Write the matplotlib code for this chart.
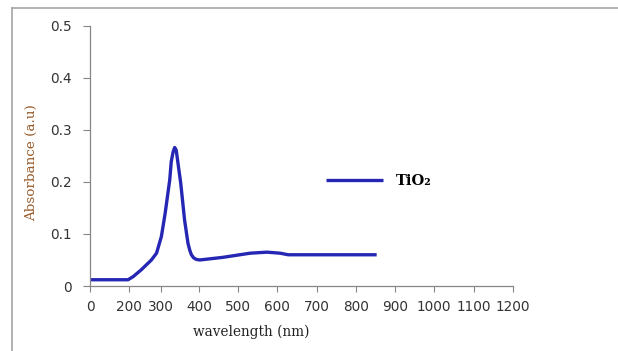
import matplotlib
matplotlib.use('Agg')
import matplotlib.pyplot as plt
from matplotlib.lines import Line2D
import numpy as np

# Datos (espectro UV-Vis de TiO2)
longitud_onda = [0, 195, 213, 238, 270, 286, 301, 311, 323, 327, 332, 336, 340,
                 346, 352, 362, 371, 376, 380, 386, 393, 402, 461, 531, 574,
                 608, 628, 853]
absorbancia = [0.012, 0.012, 0.018, 0.031, 0.050, 0.063, 0.095, 0.140, 0.204,
               0.239, 0.258, 0.266, 0.261, 0.229, 0.197, 0.127, 0.082, 0.068,
               0.060, 0.054, 0.051, 0.050, 0.055, 0.063, 0.065, 0.063, 0.060,
               0.060]

# Eje x irregular del original: valores de las marcas y su posición relativa
ticks_x = [0, 200, 300, 400, 500, 600, 700, 800, 900, 1000, 1100, 1200]
pos_ticks_x = [0, 39, 71, 109, 148, 187, 227, 266, 305, 344, 384, 423]
ticks_y = [0, 0.1, 0.2, 0.3, 0.4, 0.5]
etiquetas_y = ['0', '0.1', '0.2', '0.3', '0.4', '0.5']


def adelante(x):
    return np.interp(x, ticks_x, pos_ticks_x)


def inversa(p):
    return np.interp(p, pos_ticks_x, ticks_x)


fig = plt.figure(figsize=(6.18, 3.51), dpi=100)
ax = fig.add_axes([90 / 618, 1 - 286 / 351, 423 / 618, 260.3 / 351])

ax.plot(longitud_onda, absorbancia, color='#2626b4', linewidth=2.4,
        solid_capstyle='butt', solid_joinstyle='round', label='TiO₂')

ax.set_xscale('function', functions=(adelante, inversa))
ax.set_xlim(0, 1200)
ax.set_ylim(0, 0.5)
ax.set_xticks(ticks_x)
ax.set_xticklabels([str(t) for t in ticks_x])
ax.set_yticks(ticks_y)
ax.set_yticklabels(etiquetas_y)
ax.minorticks_off()

ax.tick_params(axis='x', length=4, width=0.8, color='#868686', pad=6,
               labelsize=9.8, labelcolor='#333333')
ax.tick_params(axis='y', length=5, width=0.8, color='#868686', pad=8,
               labelsize=9.8, labelcolor='#333333')

for lado in ['top', 'right']:
    ax.spines[lado].set_visible(False)
for lado in ['left', 'bottom']:
    ax.spines[lado].set_color('#868686')
    ax.spines[lado].set_linewidth(0.9)

ax.set_xlabel('wavelength (nm)', family='DejaVu Serif', fontsize=9.8,
              color='#222222')
ax.xaxis.set_label_coords((251 - 90) / 423, (286 - 332) / 260.3)
ax.xaxis.label.set_va('center')
ax.set_ylabel('Absorbance (a.u)', family='DejaVu Serif', fontsize=9.7,
              color='#985a28')
ax.yaxis.set_label_coords((32 - 90) / 423, (286 - 162.5) / 260.3)
ax.yaxis.label.set_va('center')

ax.legend(loc='center left', bbox_to_anchor=((326 - 90) / 423, (286 - 181) / 260.3),
          frameon=False, borderpad=0, borderaxespad=0, handlelength=3.9,
          handletextpad=0.9,
          prop={'family': ['DejaVu Serif'], 'weight': 'bold', 'size': 10.5})

# Marco exterior (solo borde superior e izquierdo visibles)
fig.add_artist(Line2D([12 / 618, 1], [1 - 8 / 351, 1 - 8 / 351],
                      transform=fig.transFigure, color='#a6a6a6', linewidth=1.2))
fig.add_artist(Line2D([12 / 618, 12 / 618], [0, 1 - 8 / 351],
                      transform=fig.transFigure, color='#a6a6a6', linewidth=1.2))

plt.savefig('out.png', dpi=100)
